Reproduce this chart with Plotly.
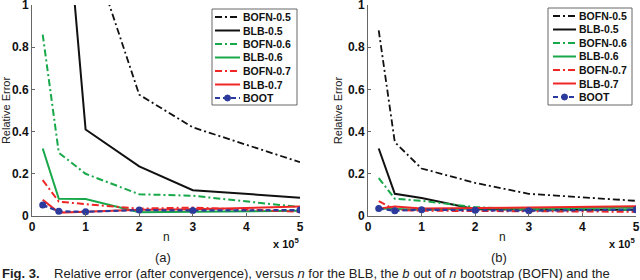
import plotly.graph_objects as go
from plotly.subplots import make_subplots

W, H = 640, 280

# n in units of 1e5
n_vals = [0.2, 0.5, 1, 2, 3, 5]
x_ticks = [0, 1, 2, 3, 4, 5]
y_ticks = [0, 0.2, 0.4, 0.6, 0.8, 1]
y_tick_labels = ["0", "0.2", "0.4", "0.6", "0.8", "1"]

series_names = ["BOFN-0.5", "BLB-0.5", "BOFN-0.6", "BLB-0.6", "BOFN-0.7", "BLB-0.7", "BOOT"]

# panel (a)
bofn05_a = [3.2, 2.1, 1.34, 0.575, 0.42, 0.255]
blb05_a = [2.6, 1.88, 0.41, 0.235, 0.122, 0.087]
bofn06_a = [0.86, 0.30, 0.20, 0.103, 0.096, 0.042]
blb06_a = [0.32, 0.082, 0.08, 0.018, 0.02, 0.025]
bofn07_a = [0.17, 0.068, 0.056, 0.035, 0.04, 0.02]
blb07_a = [0.077, 0.016, 0.02, 0.03, 0.032, 0.045]
boot_a = [0.052, 0.022, 0.02, 0.028, 0.026, 0.028]

# panel (b)
bofn05_b = [0.88, 0.35, 0.225, 0.157, 0.105, 0.072]
blb05_b = [0.32, 0.105, 0.085, 0.032, 0.03, 0.03]
bofn06_b = [0.18, 0.082, 0.072, 0.042, 0.03, 0.03]
blb06_b = [0.035, 0.032, 0.03, 0.035, 0.036, 0.04]
bofn07_b = [0.07, 0.03, 0.025, 0.024, 0.02, 0.02]
blb07_b = [0.035, 0.045, 0.035, 0.036, 0.04, 0.046]
boot_b = [0.035, 0.025, 0.03, 0.027, 0.025, 0.03]

panel_a = [bofn05_a, blb05_a, bofn06_a, blb06_a, bofn07_a, blb07_a, boot_a]
panel_b = [bofn05_b, blb05_b, bofn06_b, blb06_b, bofn07_b, blb07_b, boot_b]

BLACK = "#111111"
GREEN = "#18a84a"
RED = "#ee2626"
BLUE = "#2b3a9c"
DASHDOT = "7px,3px,2px,3px"
styles = [
    dict(color=BLACK, dash=DASHDOT, width=1.8),
    dict(color=BLACK, dash="solid", width=2),
    dict(color=GREEN, dash=DASHDOT, width=2),
    dict(color=GREEN, dash="solid", width=2),
    dict(color=RED, dash=DASHDOT, width=2),
    dict(color=RED, dash="solid", width=2),
    dict(color=BLUE, dash="5px,3px", width=2.2),
]

FONT = "Liberation Sans, Arial, sans-serif"

fig = make_subplots(rows=1, cols=2)

for col, panel in [(1, panel_a), (2, panel_b)]:
    for name, vals, st in zip(series_names, panel, styles):
        is_boot = name == "BOOT"
        fig.add_trace(
            go.Scatter(
                x=n_vals, y=vals, name=name,
                mode="lines+markers" if is_boot else "lines",
                line=st,
                marker=dict(size=7, color=BLUE) if is_boot else None,
                showlegend=False,
                cliponaxis=True,
            ),
            row=1, col=col,
        )

x_dom_a = [32 / W, 300 / W]
x_dom_b = [368 / W, 636 / W]
y_dom = [1 - 216 / H, 1 - 5 / H]

axis_common = dict(
    showline=True, linecolor="#666666", linewidth=1,
    ticks="inside", ticklen=3, tickcolor="#666666",
    showgrid=False, zeroline=False,
    automargin=False,
    ticklabeloverflow="allow",
    tickfont=dict(family=FONT, size=12, color="#111111", weight="bold"),
)

fig.update_xaxes(range=[0, 5], tickmode="array", tickvals=x_ticks,
                 ticktext=[str(t) for t in x_ticks], **axis_common)
fig.update_yaxes(range=[0, 1], tickmode="array", tickvals=y_ticks,
                 ticktext=y_tick_labels,
                 title=dict(text="Relative Error", standoff=3,
                            font=dict(family=FONT, size=11, color="#222222")),
                 **axis_common)
fig.update_layout(
    xaxis=dict(domain=x_dom_a, anchor="y"),
    xaxis2=dict(domain=x_dom_b, anchor="y2"),
    yaxis=dict(domain=y_dom, anchor="x"),
    yaxis2=dict(domain=y_dom, anchor="x2"),
)

annotations = []
shapes = []

def px(x):
    return x / W

def py(y):
    return 1 - y / H

for dom, label in [(x_dom_a, "(a)"), (x_dom_b, "(b)")]:
    left, right = dom[0] * W, dom[1] * W
    mid = (left + right) / 2
    # x axis title
    annotations.append(dict(x=px(mid), y=py(237), xref="paper", yref="paper",
                            xanchor="center", yanchor="middle",
                            text="n", showarrow=False,
                            font=dict(family=FONT, size=12, color="#222222")))
    # exponent
    annotations.append(dict(x=px(min(right + 1, 637)), y=py(243), xref="paper", yref="paper",
                            xanchor="right", yanchor="middle",
                            text="x 10<sup>5</sup>", showarrow=False,
                            font=dict(family=FONT, size=11, color="#111111", weight="bold")))
    # panel label
    annotations.append(dict(x=px(mid - 3), y=py(257), xref="paper", yref="paper",
                            xanchor="center", yanchor="middle",
                            text=label, showarrow=False,
                            font=dict(family=FONT, size=13, color="#222222")))

# legends (drawn in paper space)
legend_boxes = [dict(x0=212, x1=297, y0=9, y1=105, lx0=215, lx1=240, tx=241),
                dict(x0=548, x1=632, y0=8, y1=105, lx0=553, lx1=576, tx=577)]
for lb in legend_boxes:
    shapes.append(dict(type="rect", xref="paper", yref="paper",
                       x0=px(lb["x0"]), x1=px(lb["x1"]), y0=py(lb["y1"]), y1=py(lb["y0"]),
                       line=dict(color="#666666", width=1), fillcolor="white", layer="above"))
    for i, (name, st) in enumerate(zip(series_names, styles)):
        yy = lb["y0"] + 8 + i * 13.5
        shapes.append(dict(type="line", xref="paper", yref="paper",
                           x0=px(lb["lx0"]), x1=px(lb["lx1"]), y0=py(yy), y1=py(yy),
                           line=dict(color=st["color"], dash=st["dash"], width=st["width"]),
                           layer="above"))
        if name == "BOOT":
            cx = (lb["lx0"] + lb["lx1"]) / 2
            shapes.append(dict(type="circle", xref="paper", yref="paper",
                               x0=px(cx - 3), x1=px(cx + 3), y0=py(yy + 3), y1=py(yy - 3),
                               line=dict(color=BLUE, width=1), fillcolor=BLUE, layer="above"))
        annotations.append(dict(x=px(lb["tx"]), y=py(yy), xref="paper", yref="paper",
                                xanchor="left", yanchor="middle", text=name, showarrow=False,
                                font=dict(family=FONT, size=10.5, color="#111111", weight="bold")))

# caption (near the bottom edge as in the source)
annotations.append(dict(x=0, y=py(273), xref="paper", yref="paper", xanchor="left",
                        yanchor="middle", showarrow=False,
                        text="<b>Fig. 3.</b>    Relative error (after convergence), versus <i>n</i> for the BLB, the <i>b</i> out of <i>n</i> bootstrap (BOFN) and the",
                        font=dict(family=FONT, size=13, color="#222222")))

fig.update_layout(
    width=W, height=H,
    margin=dict(l=0, r=0, t=0, b=0, autoexpand=False),
    paper_bgcolor="white", plot_bgcolor="white",
    showlegend=False,
    hovermode=False,
    annotations=annotations,
    shapes=shapes,
)

fig.write_html(
    "out.html",
    config={"displayModeBar": False},
    post_script="document.body.style.margin='0px';document.body.style.overflow='hidden';",
)
